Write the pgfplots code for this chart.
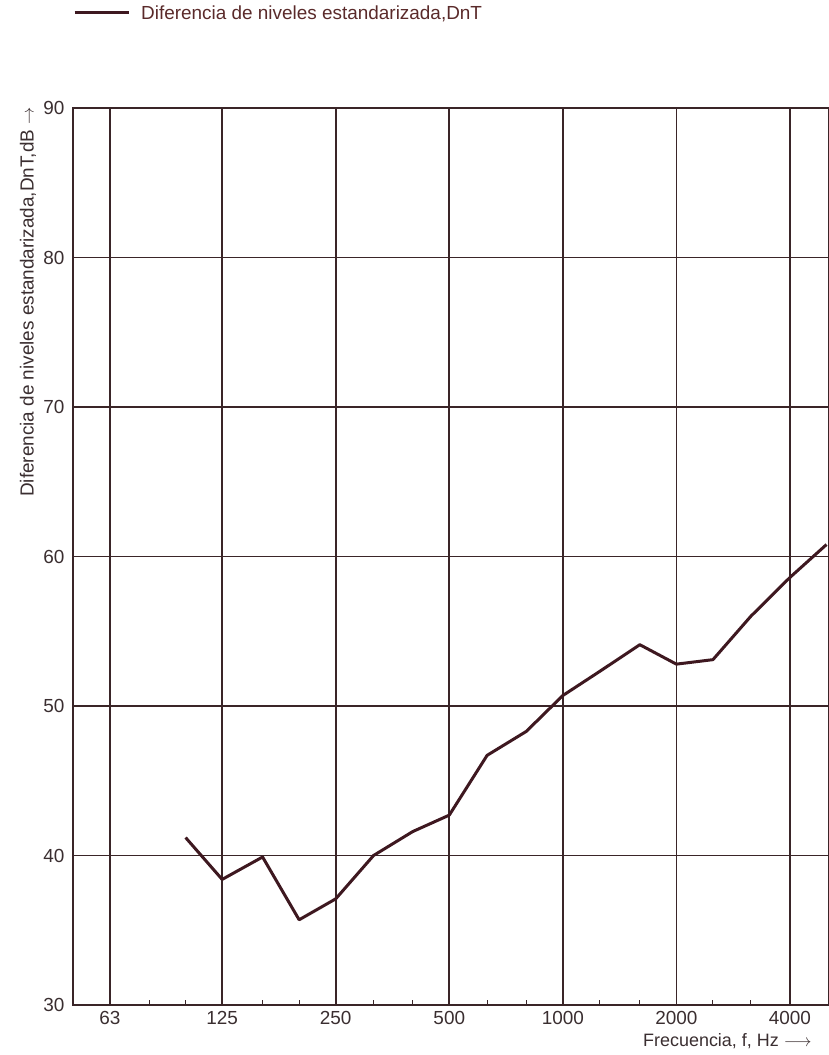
\documentclass[border=0pt]{standalone}
\usepackage{pgfplots}
\pgfplotsset{compat=1.18}
\usepackage{fontspec}
\setmainfont{Liberation Sans}
\definecolor{gridc}{HTML}{3A2528}
\definecolor{linec}{HTML}{3E1820}
\definecolor{txt}{HTML}{3A2E30}
\definecolor{legtxt}{HTML}{5A2A2A}
\begin{document}
\begin{tikzpicture}
\begin{axis}[
  scale only axis,
  width=756bp, height=897bp,
  xmode=log,
  xmin=50.3, xmax=5077,
  ymin=30, ymax=90,
  ytick={30,40,...,90},
  xtick={63,125,250,500,1000,2000,4000},
  xticklabels={63,125,250,500,1000,2000,4000},
  minor xtick={80,100,160,200,315,400,630,800,1250,1600,2500,3150},
  minor tick length=5bp,
  major tick length=0bp,
  tick align=inside,
  xtick pos=bottom, ytick pos=left,
  grid=major,
  major grid style={gridc, line width=1.6bp},
  minor grid style={draw=none},
  axis line style={gridc, line width=1.3bp},
  minor tick style={gridc, line width=1bp},
  tick label style={font=\fontsize{19}{21}\selectfont, text=txt},
  /pgf/number format/assume math mode=true,
  yticklabel style={xshift=-5bp},
  xticklabel style={yshift=-3bp},
  legend style={draw=none, fill=none, at={(axis description cs:0,1)}, anchor=west, xshift=0bp, yshift=95bp, font=\fontsize{19}{21}\selectfont, text=legtxt, inner sep=0pt},
  legend cell align=left,
  legend image code/.code={\draw[#1, line width=3bp] (3bp,0bp) -- (57bp,0bp); \path (66bp,0bp);},
]
\addplot[linec, line width=3bp, line join=round] coordinates {
 (100,41.2) (125,38.4) (160,39.9) (200,35.7) (250,37.1) (315,40.0)
 (400,41.6) (500,42.7) (630,46.7) (800,48.3) (1000,50.7) (1250,52.3)
 (1600,54.1) (2000,52.8) (2500,53.1) (3150,56.0) (4000,58.6) (5000,60.8)
};
\addlegendentry{Diferencia de niveles estandarizada,DnT}
\end{axis}
\node[rotate=90, text=txt, font=\fontsize{19}{21}\selectfont] at (-45bp,703bp) {Diferencia de niveles estandarizada,DnT,dB $\rightarrow$};
\node[anchor=east, text=txt, font=\fontsize{18}{20}\selectfont] at (742bp,-36bp) {Frecuencia, f, Hz $\longrightarrow$};
\pgfresetboundingbox
\path (-73bp,-50bp) rectangle (756bp,1005bp);
\end{tikzpicture}
\end{document}
